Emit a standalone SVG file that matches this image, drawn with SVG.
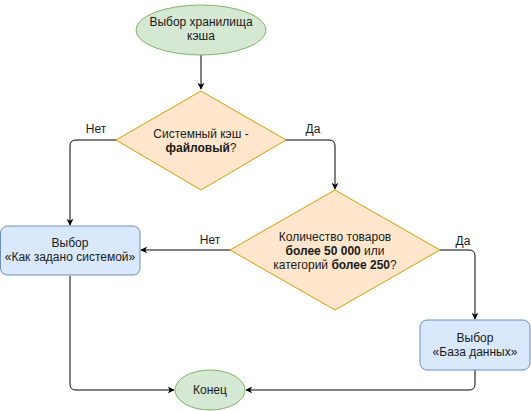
<svg xmlns="http://www.w3.org/2000/svg" width="531" height="411" viewBox="0 0 531 411">
<defs>
<marker id="arr" viewBox="0 0 10 10" refX="9" refY="5" markerWidth="7" markerHeight="7" markerUnits="userSpaceOnUse" orient="auto">
<path d="M0,0 L10,5 L0,10 L3,5 Z" fill="#000"/>
</marker>
<style>
text{font-family:"Liberation Sans",Arial,sans-serif;font-size:12px;fill:#1a1a1a;text-anchor:middle}
.term{fill:#d5e8d4;stroke:#82b366;stroke-width:1}
.dec{fill:#ffe6cc;stroke:#d79b00;stroke-width:1}
.proc{fill:#dae8fc;stroke:#6c8ebf;stroke-width:1}
.edge{fill:none;stroke:#000;stroke-width:1;marker-end:url(#arr)}
.b{font-weight:bold}
</style>
</defs>
<g id="connectors">
<path class="edge" d="M201,55 L201,89"/>
<path class="edge" d="M116,140 L76,140 Q70,140 70,146 L70,225"/>
<path class="edge" d="M286,140 L329,140 Q335,140 335,146 L335,189"/>
<path class="edge" d="M230,250 L141,250"/>
<path class="edge" d="M440,250 L469,250 Q475,250 475,256 L475,319"/>
<path class="edge" d="M70,276 L70,384 Q70,390 76,390 L174,390"/>
<path class="edge" d="M475,370 L475,384 Q475,390 469,390 L246,390"/>
<text x="96" y="133">Нет</text>
<text x="313" y="133">Да</text>
<text x="210" y="244">Нет</text>
<text x="463" y="245">Да</text>
</g>
<g id="start">
<ellipse class="term" cx="201" cy="30" rx="65" ry="25"/>
<text x="201" y="26">Выбор хранилища</text>
<text x="201" y="40">кэша</text>
</g>
<g id="decision1">
<polygon class="dec" points="201,91 286,140 201,190 116,140"/>
<text x="201" y="138">Системный кэш -</text>
<text x="201" y="152"><tspan class="b">файловый</tspan>?</text>
</g>
<g id="decision2">
<polygon class="dec" points="335,190 440,250 335,310 230,250"/>
<text x="335" y="241">Количество товаров</text>
<text x="335" y="255"><tspan class="b">более 50 000</tspan> или</text>
<text x="335" y="269">категорий <tspan class="b">более 250</tspan>?</text>
</g>
<g id="system">
<rect class="proc" x="0.5" y="226" width="139.5" height="49" rx="7"/>
<text x="70" y="247">Выбор</text>
<text x="70" y="261">«Как задано системой»</text>
</g>
<g id="database">
<rect class="proc" x="420" y="320" width="110" height="50" rx="7"/>
<text x="475" y="342">Выбор</text>
<text x="475" y="356">«База данных»</text>
</g>
<g id="end">
<ellipse class="term" cx="210" cy="390" rx="35" ry="20"/>
<text x="210" y="394">Конец</text>
</g>
</svg>
